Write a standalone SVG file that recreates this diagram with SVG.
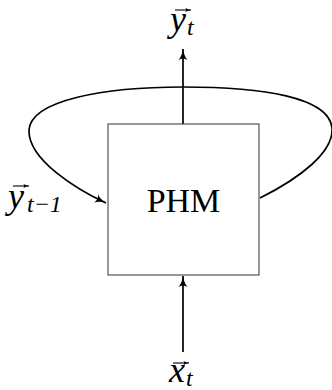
<svg xmlns="http://www.w3.org/2000/svg" width="332" height="390" viewBox="0 0 332 390">
<defs>
<marker id="ah" viewBox="0 0 12 10" refX="11" refY="5" markerWidth="12" markerHeight="10" markerUnits="userSpaceOnUse" orient="auto">
<path d="M0,0.5 Q4,4 11,5 Q4,6 0,9.5 Q3,5 0,0.5 Z" fill="#000"/>
</marker>
<marker id="vh" viewBox="0 0 8 6" refX="7.5" refY="3" markerWidth="6" markerHeight="5" markerUnits="userSpaceOnUse" orient="auto">
<path d="M0,0 Q3,2.5 8,3 Q3,3.5 0,6 Q2,3 0,0 Z" fill="#000"/>
</marker>
<style>
.ln{fill:none;stroke:#000;stroke-width:1.7;marker-end:url(#ah)}
.vec{fill:none;stroke:#000;stroke-width:1.1;marker-end:url(#vh)}
.m{font-family:"Liberation Serif","DejaVu Serif",serif;font-style:italic;fill:#000}
.t{font-family:"Liberation Serif","DejaVu Serif",serif;fill:#000}
</style>
</defs>
<g id="connectors">
<line class="ln" x1="183" y1="124" x2="183" y2="49"/>
<line class="ln" x1="183" y1="352" x2="183" y2="276"/>
<path class="ln" d="M260,198 C300,178 334,152 332,128 C329,97 262,87 183,87 C105,87 31,100 29,130 C28,160 78,190 106,203"/>
</g>
<g id="phm">
<rect x="108" y="124" width="151" height="151" fill="none" stroke="#444" stroke-width="1.1"/>
<text class="t" x="183.5" y="212" font-size="34" text-anchor="middle">PHM</text>
</g>
<g id="label-yt">
<text class="m" x="170" y="31" font-size="36">y</text>
<text class="m" x="187" y="35" font-size="24">t</text>
<line class="vec" x1="175" y1="10" x2="191" y2="10"/>
</g>
<g id="label-xt">
<text class="m" x="169" y="382" font-size="36">x</text>
<text class="m" x="186" y="386" font-size="24">t</text>
<line class="vec" x1="173" y1="363" x2="189" y2="363"/>
</g>
<g id="label-yt1">
<text class="m" x="8" y="208" font-size="36">y</text>
<text class="m" x="27" y="212" font-size="24">t−1</text>
<line class="vec" x1="13" y1="186" x2="29" y2="186"/>
</g>
</svg>
